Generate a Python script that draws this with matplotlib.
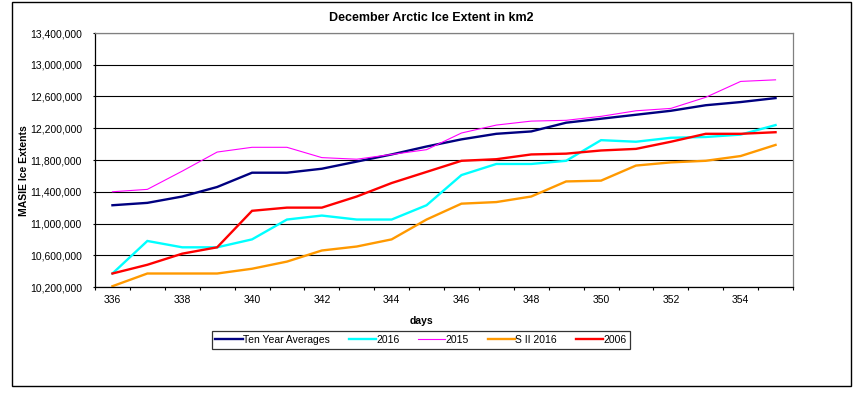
import matplotlib
matplotlib.use("Agg")
import matplotlib.pyplot as plt
from matplotlib.patches import Rectangle
from matplotlib.ticker import FuncFormatter

plt.rcParams['font.family'] = ['Liberation Sans', 'DejaVu Sans']

days = list(range(336, 356))
ten_year_avg = [11230000, 11260000, 11340000, 11460000, 11640000, 11640000, 11690000, 11780000, 11870000, 11970000,
                12060000, 12130000, 12160000, 12270000, 12320000, 12370000, 12420000, 12490000, 12530000, 12580000]
y2016 = [10370000, 10780000, 10700000, 10700000, 10800000, 11050000, 11100000, 11050000, 11050000, 11230000,
         11610000, 11750000, 11750000, 11790000, 12050000, 12030000, 12080000, 12090000, 12120000, 12240000]
y2015 = [11400000, 11430000, 11660000, 11900000, 11960000, 11960000, 11830000, 11810000, 11870000, 11930000,
         12140000, 12240000, 12290000, 12300000, 12350000, 12420000, 12450000, 12590000, 12790000, 12810000]
sii2016 = [10210000, 10370000, 10370000, 10370000, 10430000, 10520000, 10660000, 10710000, 10800000, 11050000,
           11250000, 11270000, 11340000, 11530000, 11540000, 11730000, 11770000, 11790000, 11850000, 11990000]
y2006 = [10370000, 10480000, 10620000, 10700000, 11160000, 11200000, 11200000, 11340000, 11510000, 11650000,
         11790000, 11810000, 11870000, 11880000, 11920000, 11940000, 12030000, 12130000, 12130000, 12150000]

series = [
    ("Ten Year Averages", ten_year_avg, "#000080", 1.7),
    ("2016", y2016, "#00FFFF", 1.7),
    ("2015", y2015, "#FF00FF", 0.8),
    ("S II 2016", sii2016, "#FF9900", 1.7),
    ("2006", y2006, "#FF0000", 1.7),
]

W, H = 861, 394
fig = plt.figure(figsize=(W / 100, H / 100), dpi=100)
fig.patch.set_facecolor('white')

# outer border
fig.patches.append(Rectangle((12 / W, 1 - 386 / H), (851 - 12) / W, (386 - 2) / H,
                             transform=fig.transFigure, fill=False, edgecolor='black', lw=1.0))

left, right, top, bottom = 95, 793, 33, 287
ax = fig.add_axes([left / W, 1 - bottom / H, (right - left) / W, (bottom - top) / H])

x = list(range(len(days)))
handles = []
for name, vals, color, lw in series:
    h, = ax.plot(x, vals, color=color, lw=lw, label=name, solid_joinstyle='miter')
    handles.append(h)

ax.set_xlim(-0.5, len(days) - 0.5)
ax.set_ylim(10200000, 13400000)
ax.set_yticks(range(10200000, 13400001, 400000))
ax.yaxis.set_major_formatter(FuncFormatter(lambda v, p: f"{int(round(v)):,}"))
ax.yaxis.grid(True, color='black', lw=0.8)
ax.set_axisbelow(True)

ax.set_xticks(x[::2])
ax.set_xticklabels([str(d) for d in days[::2]])
ax.set_xticks([i - 0.5 for i in range(len(days) + 1)], minor=True)
ax.tick_params(axis='x', which='major', length=0, pad=6, labelsize=7.5)
ax.tick_params(axis='x', which='minor', length=2.3, direction='out', color='black', width=0.8)
ax.tick_params(axis='y', length=1.4, pad=8, labelsize=7.5, width=0.8)

for s in ['top', 'right']:
    ax.spines[s].set_color('#808080')
    ax.spines[s].set_linewidth(0.9)
for s in ['left', 'bottom']:
    ax.spines[s].set_color('black')
    ax.spines[s].set_linewidth(0.9)

fig.text(431 / W, 1 - 18 / H, "December Arctic Ice Extent in km2", ha='center', va='center',
         fontsize=9, fontweight='bold')
fig.text(421 / W, 1 - 321 / H, "days", ha='center', va='center', fontsize=7.5, fontweight='bold')
fig.text(24 / W, 1 - 171 / H, "MASIE Ice Extents", ha='center', va='center', rotation=90,
         fontsize=7.5, fontweight='bold')

leg = fig.legend(handles=handles, loc='center', bbox_to_anchor=(421 / W, 1 - 340 / H), ncol=5,
                 fontsize=7.5, frameon=True, fancybox=False, edgecolor='black', handlelength=2.6,
                 handletextpad=0.05, columnspacing=1.8, borderpad=0.35)
leg.get_frame().set_linewidth(0.9)

fig.savefig("out.png", dpi=100)
